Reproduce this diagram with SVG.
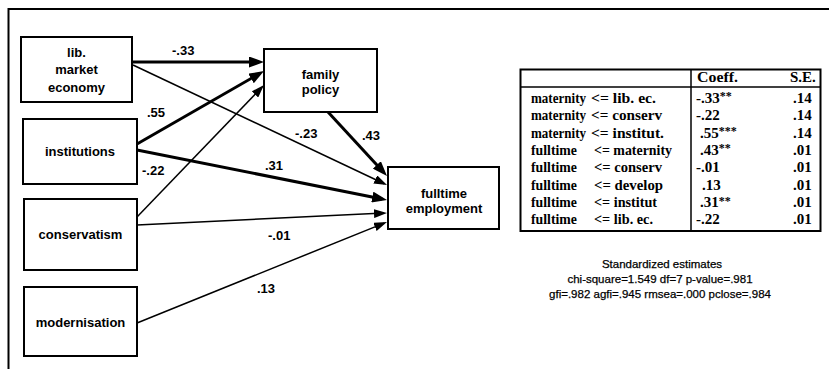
<svg xmlns="http://www.w3.org/2000/svg" width="829" height="369" viewBox="0 0 829 369">
<style>
.box{fill:#fff;stroke:#000;stroke-width:2}
.nt{font-family:"Liberation Sans",Arial,sans-serif;font-weight:bold;font-size:13px;fill:#000;text-anchor:middle}
.el{font-family:"Liberation Sans",Arial,sans-serif;font-weight:bold;font-size:13px;fill:#000}
.thick{stroke:#000;stroke-width:3;fill:none;marker-end:url(#hk)}
.thin{stroke:#000;stroke-width:1.5;fill:none;marker-end:url(#hn)}
.tt{font-family:"Liberation Serif","Times New Roman",serif;font-weight:bold;font-size:15px;fill:#000}
.st{font-family:"Liberation Sans",Arial,sans-serif;font-size:11.5px;fill:#000;text-anchor:middle;stroke:#000;stroke-width:0.25}
.ast{font-size:12px}
</style>
<defs>
<marker id="hk" markerUnits="userSpaceOnUse" markerWidth="15" markerHeight="11" refX="10" refY="5.5" orient="auto"><path d="M0,0 L15,5.5 L0,11 z" fill="#000"/></marker>
<marker id="hn" markerUnits="userSpaceOnUse" markerWidth="13" markerHeight="9" refX="10" refY="4.5" orient="auto"><path d="M0,0 L13,4.5 L0,9 z" fill="#000"/></marker>
</defs>
<rect width="829" height="369" fill="#fff"/>
<path d="M8.5,369 V9 H829" fill="none" stroke="#000" stroke-width="2"/>

<g id="connectors">
<line class="thick" x1="133" y1="62" x2="259" y2="62"/>
<line class="thin" x1="133" y1="65" x2="384.3" y2="183.7"/>
<line class="thick" x1="137" y1="144" x2="259.7" y2="73.5"/>
<line class="thick" x1="137" y1="150" x2="382.1" y2="199"/>
<line class="thin" x1="137" y1="217" x2="261.9" y2="87.2"/>
<line class="thin" x1="137" y1="225" x2="384" y2="213.1"/>
<line class="thin" x1="137" y1="323" x2="384.2" y2="223.1"/>
<line class="thick" x1="328" y1="112" x2="383.6" y2="172.3"/>
<text class="el" x="172" y="55">-.33</text>
<text class="el" x="147" y="117">.55</text>
<text class="el" x="142" y="175">-.22</text>
<text class="el" x="265" y="170">.31</text>
<text class="el" x="295" y="138">-.23</text>
<text class="el" x="362" y="140">.43</text>
<text class="el" x="268" y="240">-.01</text>
<text class="el" x="257" y="293">.13</text>
</g>

<g id="lib">
<rect class="box" x="21" y="37" width="111" height="65"/>
<text class="nt" x="76.5" y="57">lib.</text>
<text class="nt" x="76.5" y="74">market</text>
<text class="nt" x="76.5" y="92">economy</text>
</g>
<g id="institutions">
<rect class="box" x="23" y="119" width="114" height="65"/>
<text class="nt" x="80" y="156">institutions</text>
</g>
<g id="conservatism">
<rect class="box" x="24" y="199" width="113" height="71"/>
<text class="nt" x="80.5" y="239">conservatism</text>
</g>
<g id="modernisation">
<rect class="box" x="24" y="287" width="113" height="69"/>
<text class="nt" x="80.5" y="327">modernisation</text>
</g>
<g id="family">
<rect class="box" x="264" y="49" width="113" height="63"/>
<text class="nt" x="320.5" y="79">family</text>
<text class="nt" x="320.5" y="94">policy</text>
</g>
<g id="fulltime">
<rect class="box" x="388" y="167" width="111" height="62"/>
<text class="nt" x="444" y="198">fulltime</text>
<text class="nt" x="444" y="213">employment</text>
</g>

<g id="table">
<rect x="520.5" y="69.5" width="300" height="161.5" fill="none" stroke="#000" stroke-width="2"/>
<line x1="520.5" y1="87" x2="820.5" y2="87" stroke="#000" stroke-width="1.5"/>
<line x1="691" y1="69.5" x2="691" y2="231" stroke="#000" stroke-width="1.5"/>
<text class="tt" x="697" y="82" textLength="41" lengthAdjust="spacingAndGlyphs">Coeff.</text>
<text class="tt" x="790" y="82">S.E.</text>

<text class="tt" x="531" y="103" textLength="55" lengthAdjust="spacingAndGlyphs">maternity</text>
<text class="tt" x="591" y="103" textLength="65" lengthAdjust="spacingAndGlyphs">&lt;= lib. ec.</text>
<text class="tt" x="531" y="120.3" textLength="55" lengthAdjust="spacingAndGlyphs">maternity</text>
<text class="tt" x="591" y="120.3" textLength="71" lengthAdjust="spacingAndGlyphs">&lt;= conserv</text>
<text class="tt" x="531" y="137.6" textLength="55" lengthAdjust="spacingAndGlyphs">maternity</text>
<text class="tt" x="591" y="137.6" textLength="73" lengthAdjust="spacingAndGlyphs">&lt;= institut.</text>
<text class="tt" x="531" y="154.9" textLength="46" lengthAdjust="spacingAndGlyphs">fulltime</text>
<text class="tt" x="594" y="154.9" textLength="78" lengthAdjust="spacingAndGlyphs">&lt;= maternity</text>
<text class="tt" x="531" y="172.2" textLength="46" lengthAdjust="spacingAndGlyphs">fulltime</text>
<text class="tt" x="594" y="172.2" textLength="68" lengthAdjust="spacingAndGlyphs">&lt;= conserv</text>
<text class="tt" x="531" y="189.5" textLength="46" lengthAdjust="spacingAndGlyphs">fulltime</text>
<text class="tt" x="594" y="189.5" textLength="69" lengthAdjust="spacingAndGlyphs">&lt;= develop</text>
<text class="tt" x="531" y="206.8" textLength="46" lengthAdjust="spacingAndGlyphs">fulltime</text>
<text class="tt" x="594" y="206.8" textLength="63" lengthAdjust="spacingAndGlyphs">&lt;= institut</text>
<text class="tt" x="531" y="224.1" textLength="46" lengthAdjust="spacingAndGlyphs">fulltime</text>
<text class="tt" x="594" y="224.1" textLength="59" lengthAdjust="spacingAndGlyphs">&lt;= lib. ec.</text>

<text class="tt" x="696" y="103">-.33<tspan class="ast" dy="-3">**</tspan></text>
<text class="tt" x="696" y="120.3">-.22</text>
<text class="tt" x="700" y="137.6">.55<tspan class="ast" dy="-3">***</tspan></text>
<text class="tt" x="700" y="154.9">.43<tspan class="ast" dy="-3">**</tspan></text>
<text class="tt" x="696" y="172.2">-.01</text>
<text class="tt" x="702" y="189.5">.13</text>
<text class="tt" x="700" y="206.8">.31<tspan class="ast" dy="-2">**</tspan></text>
<text class="tt" x="696" y="224.1">-.22</text>

<text class="tt" x="793" y="103">.14</text>
<text class="tt" x="793" y="120.3">.14</text>
<text class="tt" x="793" y="137.6">.14</text>
<text class="tt" x="793" y="154.9">.01</text>
<text class="tt" x="793" y="172.2">.01</text>
<text class="tt" x="793" y="189.5">.01</text>
<text class="tt" x="793" y="206.8">.01</text>
<text class="tt" x="793" y="224.1">.01</text>
</g>

<g id="notes">
<text class="st" x="662" y="268">Standardized estimates</text>
<text class="st" x="660" y="283">chi-square=1.549 df=7 p-value=.981</text>
<text class="st" x="660" y="298">gfi=.982 agfi=.945 rmsea=.000 pclose=.984</text>
</g>
</svg>
